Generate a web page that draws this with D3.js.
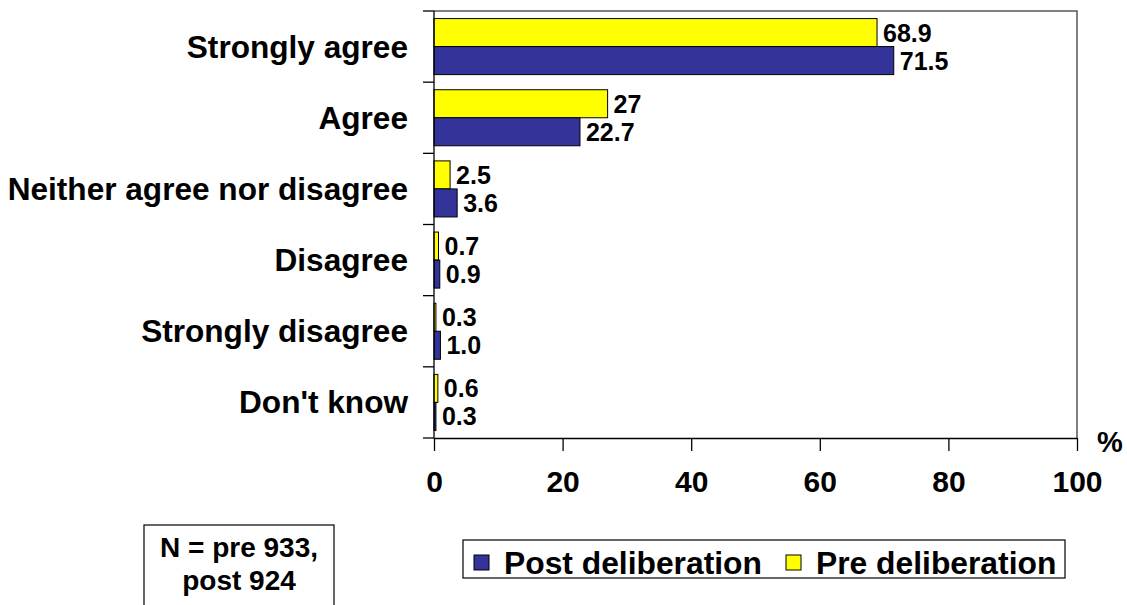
<!DOCTYPE html>
<html>
<head>
<meta charset="utf-8">
<script src="https://cdn.jsdelivr.net/npm/d3@7"></script>
<style>
  html, body { margin: 0; padding: 0; background: #fff; }
  svg { display: block; }
  text { font-family: Arial, "Liberation Sans", Helvetica, sans-serif; font-weight: bold; fill: #000; }
</style>
</head>
<body>
<svg id="chart" width="1127" height="605"></svg>
<script>
// Response categories, top to bottom
const categories = ["Strongly agree", "Agree", "Neither agree nor disagree", "Disagree", "Strongly disagree", "Don't know"];
// Percentages before and after deliberation
const preValues  = [68.9, 27, 2.5, 0.7, 0.3, 0.6];
const postValues = [71.5, 22.7, 3.6, 0.9, 1.0, 0.3];
// Value labels as printed next to each bar
const preLabels  = ["68.9", "27", "2.5", "0.7", "0.3", "0.6"];
const postLabels = ["71.5", "22.7", "3.6", "0.9", "1.0", "0.3"];
// Axis ticks
const xTicks = [0, 20, 40, 60, 80, 100];
const seriesNames = ["Pre deliberation", "Post deliberation"];
const legendOrder = ["Post deliberation", "Pre deliberation"];
const sampleNote = ["N = pre 933,", "post 924"];

const colors = { "Pre deliberation": "#FFFF00", "Post deliberation": "#333399" };

const plot = { left: 434, right: 1077, top: 11, bottom: 438 };
const svg = d3.select("#chart");

const x = d3.scaleLinear().domain([0, 100]).range([plot.left, plot.right]);
const y = d3.scaleBand().domain(categories).range([plot.top, plot.bottom]).padding(0);
const ySub = d3.scaleBand().domain(seriesNames).range([0, y.bandwidth()])
  .paddingInner(0).paddingOuter(0.27);

const rows = categories.map((c, i) => ({
  cat: c,
  bars: [
    { series: "Pre deliberation", value: preValues[i], label: preLabels[i] },
    { series: "Post deliberation", value: postValues[i], label: postLabels[i] }
  ]
}));

// Plot frame: top and right edges
svg.append("path")
  .attr("d", `M${plot.left},${plot.top}H${plot.right}V${plot.bottom}`)
  .attr("fill", "none").attr("stroke", "#555").attr("stroke-width", 1.5);

// Bars
const groups = svg.selectAll("g.row").data(rows).join("g")
  .attr("class", "row")
  .attr("transform", d => `translate(0,${y(d.cat)})`);

groups.selectAll("rect").data(d => d.bars).join("rect")
  .attr("x", x(0))
  .attr("y", d => ySub(d.series))
  .attr("width", d => x(d.value) - x(0))
  .attr("height", ySub.bandwidth())
  .attr("fill", d => colors[d.series])
  .attr("stroke", "#000").attr("stroke-width", 1);

groups.selectAll("text.val").data(d => d.bars).join("text")
  .attr("class", "val")
  .attr("x", d => x(d.value) + 6)
  .attr("y", d => ySub(d.series) + ySub.bandwidth() / 2)
  .attr("dominant-baseline", "central")
  .style("font-size", "25px")
  .text(d => d.label);

// Category labels
svg.append("g").selectAll("text").data(categories).join("text")
  .attr("x", 408)
  .attr("y", d => y(d) + y.bandwidth() / 2)
  .attr("text-anchor", "end")
  .attr("dominant-baseline", "central")
  .style("font-size", "31.6px")
  .text(d => d);

// Left axis with ticks at category boundaries
const yEdges = categories.map(c => y(c)).concat([y.range()[1]]);
const yAxis = svg.append("g");
yAxis.append("line")
  .attr("x1", plot.left).attr("x2", plot.left)
  .attr("y1", plot.top).attr("y2", plot.bottom)
  .attr("stroke", "#000").attr("stroke-width", 1.3);
yAxis.selectAll("line.tick").data(yEdges).join("line")
  .attr("class", "tick")
  .attr("x1", plot.left - 11).attr("x2", plot.left)
  .attr("y1", d => d).attr("y2", d => d)
  .attr("stroke", "#000").attr("stroke-width", 1.3);

// Bottom axis
const xAxis = svg.append("g")
  .attr("transform", `translate(0,${plot.bottom})`)
  .call(d3.axisBottom(x).tickValues(xTicks).tickSize(13).tickSizeOuter(0).tickFormat(d3.format("d")));
xAxis.select(".domain").attr("stroke", "#000").attr("stroke-width", 1.3);
xAxis.selectAll(".tick line").attr("stroke", "#000").attr("stroke-width", 1.3);
xAxis.selectAll(".tick text")
  .attr("y", 54).attr("dy", null)
  .style("font-size", "30px")
  .style("font-family", "Arial, 'Liberation Sans', sans-serif")
  .style("font-weight", "bold")
  .attr("fill", "#000");

svg.append("text")
  .attr("x", 1097).attr("y", 452)
  .style("font-size", "29px")
  .text("%");

// Legend
const legend = svg.append("g");
legend.append("rect")
  .attr("x", 463).attr("y", 540).attr("width", 602).attr("height", 38)
  .attr("fill", "#fff").attr("stroke", "#000").attr("stroke-width", 1.2);
const legendX = { "Post deliberation": 474, "Pre deliberation": 786 };
const items = legend.selectAll("g.item").data(legendOrder).join("g")
  .attr("class", "item")
  .attr("transform", d => `translate(${legendX[d]},0)`);
items.append("rect")
  .attr("x", 0).attr("y", 555).attr("width", 15).attr("height", 15)
  .attr("fill", d => colors[d]).attr("stroke", "#000").attr("stroke-width", 1);
items.append("text")
  .attr("x", 30).attr("y", 574)
  .style("font-size", "31.8px")
  .text(d => d);

// Sample size note
const note = svg.append("g");
note.append("rect")
  .attr("x", 144).attr("y", 525).attr("width", 190).attr("height", 100)
  .attr("fill", "#fff").attr("stroke", "#000").attr("stroke-width", 1.2);
note.selectAll("text").data(sampleNote).join("text")
  .attr("x", 239)
  .attr("y", (d, i) => 557 + i * 33)
  .attr("text-anchor", "middle")
  .style("font-size", "28px")
  .text(d => d);
</script>
</body>
</html>
